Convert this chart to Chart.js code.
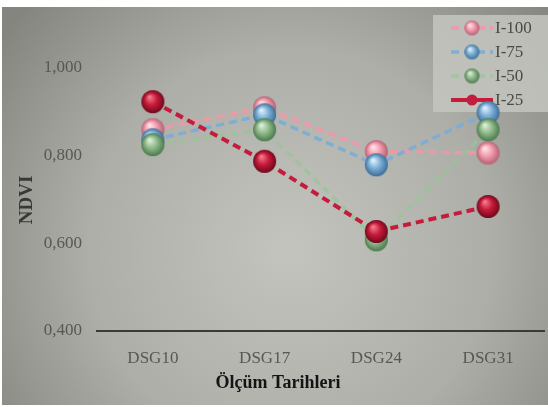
<!DOCTYPE html>
<html><head><meta charset="utf-8">
<script src="https://cdn.jsdelivr.net/npm/chart.js@4/dist/chart.umd.min.js"></script>
<style>html,body{margin:0;padding:0;background:#fff;}canvas{display:block;}</style>
</head><body>
<canvas id="c" width="548" height="407"></canvas>
<script>
// NDVI readings per irrigation level across measurement dates
const categories = ['DSG10', 'DSG17', 'DSG24', 'DSG31'];
const seriesNames = ['I-100', 'I-75', 'I-50', 'I-25'];
const i100 = [0.859, 0.909, 0.809, 0.806];
const i75 = [0.836, 0.893, 0.779, 0.898];
const i50 = [0.825, 0.859, 0.608, 0.859];
const i25 = [0.923, 0.787, 0.627, 0.684];
const yTicks = [0.4, 0.6, 0.8, 1.0];
const yTitle = 'NDVI';
const xTitle = 'Ölçüm Tarihleri';

const SERIF = '"Liberation Serif", "DejaVu Serif", serif';

// shaded ball used as point marker
function sphere(r, hi, base, dark) {
  const s = Math.ceil(r * 2) + 2;
  const c = document.createElement('canvas');
  c.width = c.height = s;
  const g = c.getContext('2d');
  const cx = s / 2, cy = s / 2;
  const grad = g.createRadialGradient(cx - r * 0.3, cy - r * 0.42, r * 0.05, cx, cy, r);
  grad.addColorStop(0, hi);
  grad.addColorStop(0.5, base);
  grad.addColorStop(1, dark);
  g.fillStyle = grad;
  g.beginPath(); g.arc(cx, cy, r, 0, Math.PI * 2); g.fill();
  return c;
}

const styles = [
  { line: 'rgba(242,150,168,0.9)', width: 3.5, dash: [8, 5], ball: ['#ffe4ea', '#f29cad', '#b46274'] },
  { line: 'rgba(122,172,216,0.9)', width: 3.5, dash: [8, 5], ball: ['#e2f2fc', '#7cb0d8', '#3e6e96'] },
  { line: 'rgba(150,198,150,0.7)', width: 3.5, dash: [8, 5], ball: ['#e0f0d8', '#8fba8c', '#4c7a4e'] },
  { line: '#c41c3c', width: 4, dash: [8, 5], ball: ['#f47c8c', '#c81a3a', '#6e0a1c'] }
];
const seriesValues = [i100, i75, i50, i25];

const datasets = seriesNames.map((name, i) => ({
  label: name,
  data: seriesValues[i],
  borderColor: styles[i].line,
  borderWidth: styles[i].width,
  borderDash: styles[i].dash,
  pointStyle: sphere(11.5, ...styles[i].ball),
  pointRadius: 12,
  fill: false,
  tension: 0,
  clip: false,
  order: 3 - i
}));

const bgPlugin = {
  id: 'panelBg',
  beforeDraw(chart) {
    const g = chart.ctx;
    g.save();
    g.fillStyle = '#ffffff';
    g.fillRect(0, 0, chart.width, chart.height);
    const grad = g.createRadialGradient(290, 250, 10, 290, 250, 360);
    grad.addColorStop(0, '#c2c3bc');
    grad.addColorStop(0.55, '#adaea8');
    grad.addColorStop(1, '#83857e');
    g.fillStyle = grad;
    g.fillRect(2, 7, chart.width - 2, chart.height - 9);
    g.restore();
  }
};

const legendPlugin = {
  id: 'boxLegend',
  beforeDatasetsDraw(chart) {
    const g = chart.ctx;
    g.save();
    g.fillStyle = 'rgba(196,197,192,0.85)';
    g.fillRect(433, 15, 115, 97);
    chart.data.datasets.forEach((ds, i) => {
      const y = 28 + i * 24;
      g.strokeStyle = ds.borderColor;
      g.lineWidth = ds.borderWidth;
      if (i < 3) g.setLineDash([8, 5]); else g.setLineDash([]);
      g.beginPath(); g.moveTo(451, y); g.lineTo(493, y); g.stroke();
      g.setLineDash([]);
      if (i < 3) {
        g.drawImage(sphere(7.5, ...styles[i].ball), 472 - 8.5, y - 8.5);
      } else {
        g.fillStyle = '#c41c3c';
        g.beginPath(); g.arc(472, y, 5.5, 0, Math.PI * 2); g.fill();
      }
      g.fillStyle = '#4a4a48';
      g.font = '17px ' + SERIF;
      g.textAlign = 'left';
      g.textBaseline = 'middle';
      g.fillText(ds.label, 495, y + 1);
    });
    g.restore();
  }
};

const titlePlugin = {
  id: 'axisTitles',
  afterDraw(chart) {
    const g = chart.ctx;
    g.save();
    g.fillStyle = '#383836';
    g.font = 'bold 19px ' + SERIF;
    g.textAlign = 'center';
    g.textBaseline = 'middle';
    g.translate(27, 200);
    g.rotate(-Math.PI / 2);
    g.fillText(yTitle, 0, 0);
    g.restore();
    g.save();
    g.fillStyle = '#141414';
    g.font = 'bold 18px ' + SERIF;
    g.textAlign = 'center';
    g.textBaseline = 'middle';
    g.fillText(xTitle, 278, 383);
    g.restore();
  }
};

new Chart(document.getElementById('c'), {
  type: 'line',
  data: { labels: categories, datasets },
  options: {
    responsive: false,
    animation: false,
    devicePixelRatio: 1,
    layout: { autoPadding: false, padding: { left: 0, right: 4, top: 24, bottom: 0 } },
    plugins: { legend: { display: false }, tooltip: { enabled: false } },
    scales: {
      x: {
        offset: true,
        grid: { display: false, drawTicks: false },
        border: { display: true, color: '#3a3a38', width: 2 },
        ticks: { font: { family: SERIF, size: 17 }, color: '#575855', padding: 17 },
        afterFit(s) { s.height = 76; s.paddingLeft = 0; s.paddingRight = 0; }
      },
      y: {
        min: 0.4,
        max: 1.1,
        afterBuildTicks(s) { s.ticks = yTicks.map(v => ({ value: v })); },
        grid: { display: false, drawTicks: false },
        border: { display: false },
        ticks: {
          font: { family: SERIF, size: 17 },
          color: '#575855',
          padding: 15,
          callback: v => Number(v).toFixed(3).replace('.', ',')
        },
        afterFit(s) { s.width = 97; s.paddingTop = 0; s.paddingBottom = 0; }
      }
    }
  },
  plugins: [bgPlugin, legendPlugin, titlePlugin]
});
</script>
</body></html>
